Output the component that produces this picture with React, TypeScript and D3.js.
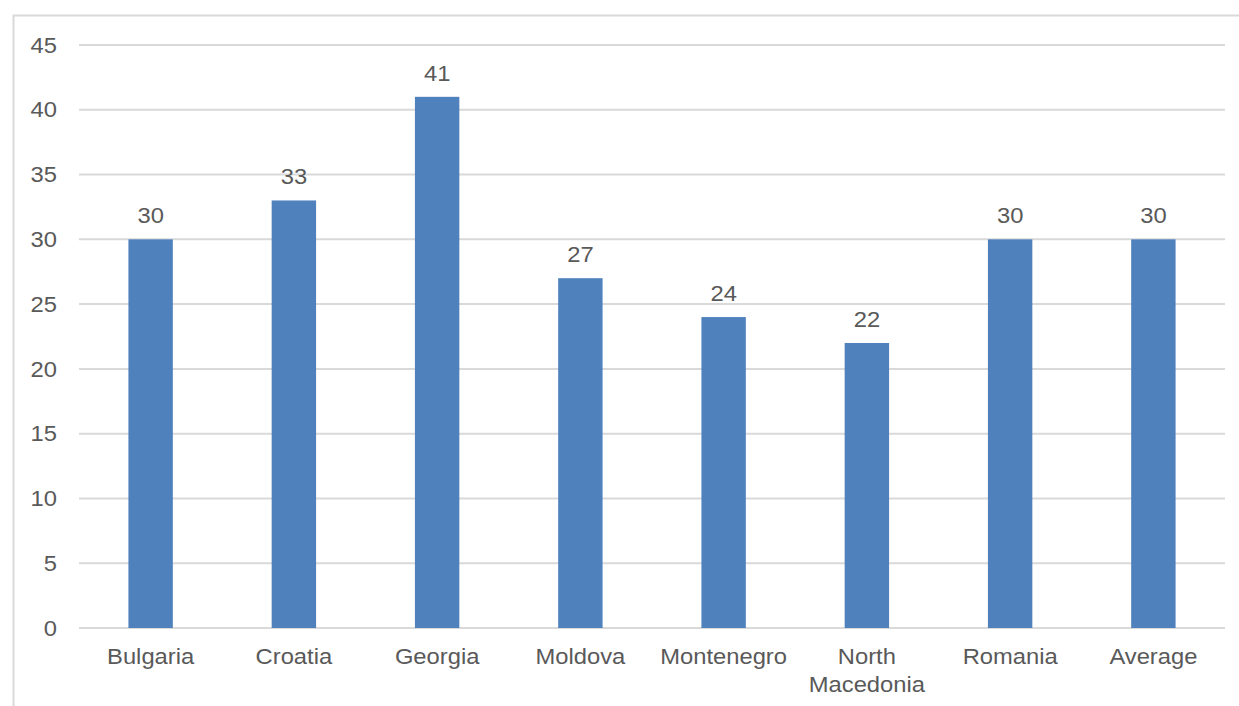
import React from "react";
import * as d3 from "d3";

const categories: string[][] = [
  ["Bulgaria"],
  ["Croatia"],
  ["Georgia"],
  ["Moldova"],
  ["Montenegro"],
  ["North", "Macedonia"],
  ["Romania"],
  ["Average"],
];
const values: number[] = [30, 33, 41, 27, 24, 22, 30, 30];
const yTicks: number[] = [0, 5, 10, 15, 20, 25, 30, 35, 40, 45];

const W = 1239;
const H = 706;
const margin = { left: 79, right: 14, top: 45, bottom: 78 };
const FONT = "'Liberation Sans', Arial, sans-serif";
const TEXT = "#595959";
const BAR = "#4f81bd";
const GRID = "#d9d9d9";
const FS = 22;
const SX = 1.08;

function Label(props: { x: number; y: number; anchor: string; dy?: string; children: React.ReactNode }) {
  return (
    <text
      transform={`translate(${props.x},${props.y}) scale(${SX},1)`}
      dy={props.dy}
      textAnchor={props.anchor}
      fontSize={FS}
      fill={TEXT}
    >
      {props.children}
    </text>
  );
}

export default function App() {
  const x = d3
    .scaleBand<number>()
    .domain(d3.range(values.length))
    .range([margin.left, W - margin.right])
    .paddingInner(0.69)
    .paddingOuter(0.345);
  const y = d3
    .scaleLinear()
    .domain([0, 45])
    .range([H - margin.bottom, margin.top]);
  const cx = (i: number) => (x(i) as number) + x.bandwidth() / 2;

  return (
    <svg
      width={W}
      height={H}
      style={{ position: "absolute", left: 0, top: 0, background: "#fff" }}
      fontFamily={FONT}
    >
      {/* outer frame */}
      <rect x={13.5} y={15.5} width={W + 10} height={H + 10} fill="none" stroke={GRID} strokeWidth={2} />
      {/* gridlines */}
      {yTicks.map((t) => (
        <line
          key={t}
          x1={margin.left}
          x2={W - margin.right}
          y1={y(t)}
          y2={y(t)}
          stroke={GRID}
          strokeWidth={2}
        />
      ))}
      {/* y tick labels */}
      {yTicks.map((t) => (
        <Label key={"l" + t} x={57} y={y(t)} dy="0.35em" anchor="end">
          {t}
        </Label>
      ))}
      {/* bars */}
      {values.map((v, i) => (
        <rect
          key={"b" + i}
          x={x(i)}
          y={y(v)}
          width={x.bandwidth()}
          height={y(0) - y(v)}
          fill={BAR}
        />
      ))}
      {/* value labels */}
      {values.map((v, i) => (
        <Label key={"v" + i} x={cx(i)} y={y(v) - 16} anchor="middle">
          {v}
        </Label>
      ))}
      {/* category labels */}
      {categories.map((lines, i) =>
        lines.map((ln, j) => (
          <Label key={"c" + i + "_" + j} x={cx(i)} y={y(0) + 36 + j * 28} anchor="middle">
            {ln}
          </Label>
        ))
      )}
    </svg>
  );
}
